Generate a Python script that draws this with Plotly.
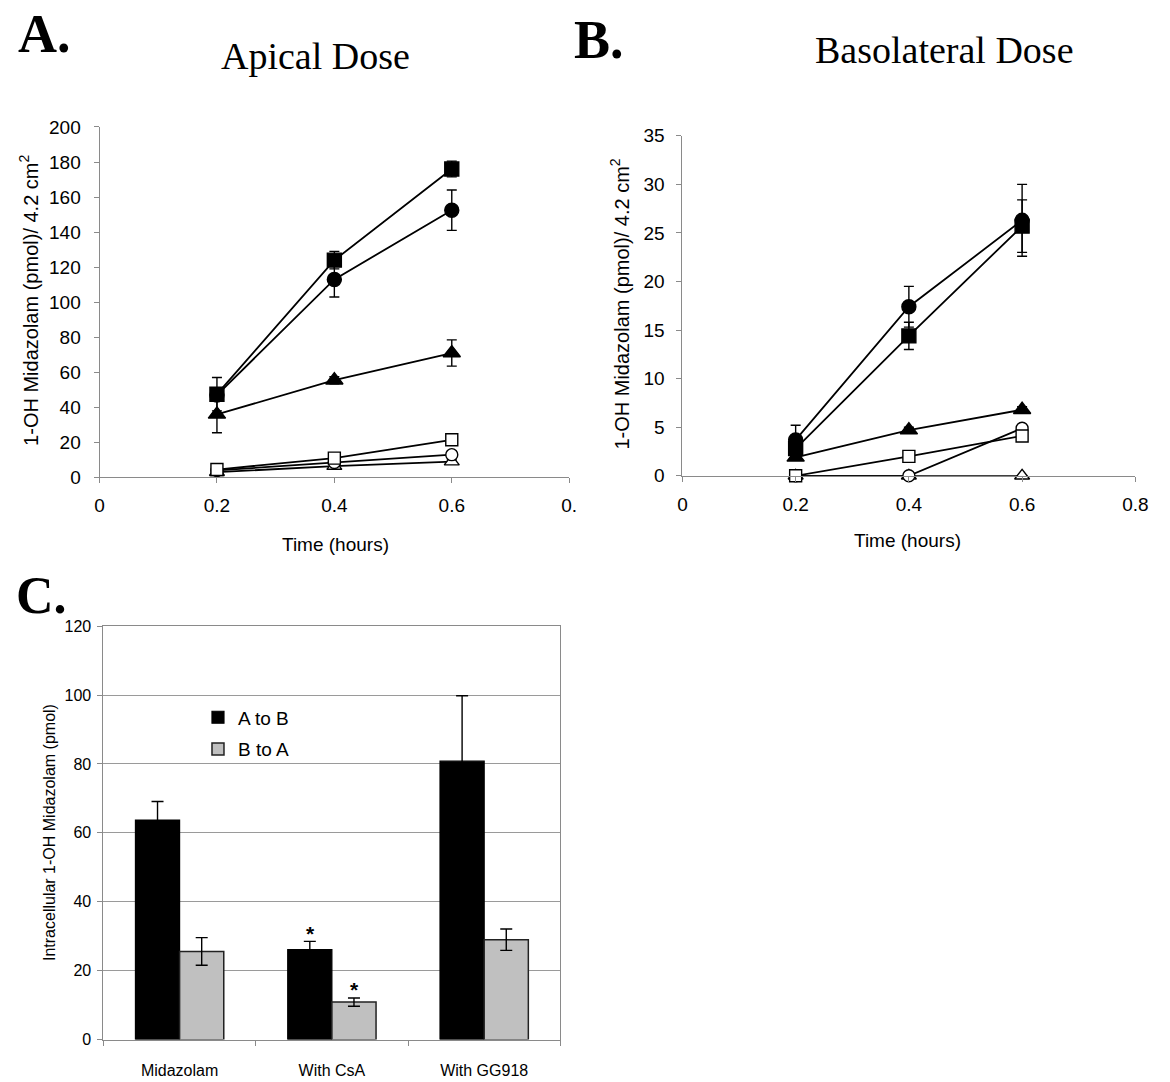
import plotly.graph_objects as go

W, H = 1170, 1082

# ---------------- data ----------------
time_h = [0.2, 0.4, 0.6]

# Panel A: apical dose, 1-OH midazolam (pmol / 4.2 cm2)
ap_filled_square = [47.5, 124, 176]
ap_filled_square_sd = [9.5, 5, 4.5]
ap_filled_circle = [47, 113, 152.5]
ap_filled_circle_sd = [3, 10, 11.5]
ap_filled_triangle = [36, 55.5, 71]
ap_filled_triangle_sd = [10.5, 2, 7.5]
ap_open_square = [4.5, 11, 21.5]
ap_open_square_sd = [1, 1.5, 2.5]
ap_open_circle = [4, 8.5, 13]
ap_open_circle_sd = [1, 1, 2]
ap_open_triangle = [3, 6.5, 9]
ap_open_triangle_sd = [0.5, 1, 1]

# Panel B: basolateral dose, 1-OH midazolam (pmol / 4.2 cm2)
bl_filled_square = [2.8, 14.4, 25.7]
bl_filled_square_sd = [0.5, 1.4, 2.7]
bl_filled_circle = [3.7, 17.4, 26.3]
bl_filled_circle_sd = [1.5, 2.1, 3.7]
bl_filled_triangle = [1.9, 4.7, 6.8]
bl_filled_triangle_sd = [0.3, 0.3, 0.3]
bl_open_square = [0, 2.0, 4.1]
bl_open_square_sd = [0, 0.3, 0.4]
bl_open_circle = [0, 0, 4.9]
bl_open_circle_sd = [0, 0, 0.3]
bl_open_triangle = [0, 0, 0]
bl_open_triangle_sd = [0, 0, 0]

# Panel C: intracellular 1-OH midazolam (pmol)
treatments = ["Midazolam", "With CsA", "With GG918"]
a_to_b = [63.7, 26.1, 80.8]
a_to_b_sd = [5.4, 2.4, 19.0]
b_to_a = [25.6, 10.9, 29.0]
b_to_a_sd = [4.0, 1.2, 3.1]
significant = [False, True, False]

x_ticks = [0, 0.2, 0.4, 0.6, 0.8]
x_ticktext_a = ["0", "0.2", "0.4", "0.6", "0."]
x_ticktext_b = ["0", "0.2", "0.4", "0.6", "0.8"]

# ---------------- helpers ----------------
def px_x(x):
    return x / W


def px_y(y):
    return 1 - y / H


SANS = "Liberation Sans, Arial, sans-serif"
SERIF = "Liberation Serif, Times New Roman, serif"
AXIS_GREY = "#8a8a8a"

fig = go.Figure()


def add_series(y, sd, symbol, filled, xa, ya):
    size = 14 if filled else 12
    if symbol == "triangle-up":
        size += 1
    fig.add_trace(go.Scatter(
        x=time_h, y=y,
        mode="lines+markers",
        line=dict(color="black", width=1.8),
        marker=dict(symbol=symbol, size=size,
                    color="black" if filled else "white",
                    line=dict(color="black", width=1.4)),
        error_y=dict(type="data", array=sd, visible=True, color="black",
                     thickness=1.4, width=5),
        cliponaxis=False, showlegend=False, xaxis=xa, yaxis=ya,
    ))


panel_a = [
    (ap_open_triangle, ap_open_triangle_sd, "triangle-up", False),
    (ap_open_circle, ap_open_circle_sd, "circle", False),
    (ap_open_square, ap_open_square_sd, "square", False),
    (ap_filled_triangle, ap_filled_triangle_sd, "triangle-up", True),
    (ap_filled_circle, ap_filled_circle_sd, "circle", True),
    (ap_filled_square, ap_filled_square_sd, "square", True),
]
for y, sd, sym, filled in panel_a:
    add_series(y, sd, sym, filled, "x", "y")

panel_b = [
    (bl_open_triangle, bl_open_triangle_sd, "triangle-up", False),
    (bl_open_circle, bl_open_circle_sd, "circle", False),
    (bl_open_square, bl_open_square_sd, "square", False),
    (bl_filled_triangle, bl_filled_triangle_sd, "triangle-up", True),
    (bl_filled_square, bl_filled_square_sd, "square", True),
    (bl_filled_circle, bl_filled_circle_sd, "circle", True),
]
for y, sd, sym, filled in panel_b:
    add_series(y, sd, sym, filled, "x2", "y2")

# Panel C bars
fig.add_trace(go.Bar(
    x=treatments, y=a_to_b, name="A to B",
    marker=dict(color="black", line=dict(color="black", width=1.2)),
    error_y=dict(type="data", array=a_to_b_sd, color="black", thickness=1.4, width=6),
    xaxis="x3", yaxis="y3", legendgroup="ab",
))
fig.add_trace(go.Bar(
    x=treatments, y=b_to_a, name="B to A",
    marker=dict(color="#c0c0c0", line=dict(color="#222222", width=1.5)),
    error_y=dict(type="data", array=b_to_a_sd, color="black", thickness=1.4, width=6),
    xaxis="x3", yaxis="y3", legendgroup="ba",
))

# significance markers above the treated bars
for i, flag in enumerate(significant):
    if not flag:
        continue
    for vals, sds, shift in ((a_to_b, a_to_b_sd, -21), (b_to_a, b_to_a_sd, 23)):
        fig.add_annotation(
            x=treatments[i], y=vals[i] + sds[i], xref="x3", yref="y3",
            text="<b>*</b>", showarrow=False, xshift=shift, yshift=8,
            font=dict(family=SANS, size=21, color="black"),
        )

common_line_axis = dict(
    showline=True, linecolor=AXIS_GREY, linewidth=1,
    ticks="outside", ticklen=5, tickcolor=AXIS_GREY,
    showgrid=False, zeroline=False,
    tickfont=dict(family=SANS, size=19, color="black"),
)

fig.update_layout(
    width=W, height=H,
    margin=dict(l=0, r=0, t=0, b=0),
    paper_bgcolor="white", plot_bgcolor="white",
    barmode="group", bargap=0.42, bargroupgap=0,
    showlegend=True,
    legend=dict(
        x=px_x(196), y=px_y(702), xanchor="left", yanchor="top",
        bgcolor="rgba(0,0,0,0)", font=dict(family=SANS, size=19, color="black"),
        tracegroupgap=4, itemwidth=30,
    ),
    xaxis=dict(domain=[px_x(96), px_x(573)], range=[0, 0.8],
               tickvals=x_ticks, ticktext=x_ticktext_a,
               ticklabelstandoff=6, anchor="y", **common_line_axis),
    yaxis=dict(domain=[px_y(476.7), px_y(119.3)], range=[0, 200], dtick=20,
               ticklabelstandoff=9, anchor="x", **common_line_axis),
    xaxis2=dict(domain=[px_x(688), px_x(1148)], range=[0, 0.8],
                tickvals=x_ticks, ticktext=x_ticktext_b,
                ticklabelstandoff=6, anchor="y2", **common_line_axis),
    yaxis2=dict(domain=[px_y(475), px_y(128.3)], range=[0, 35], dtick=5,
                ticklabelstandoff=8, anchor="x2", **common_line_axis),
    xaxis3=dict(domain=[px_x(100), px_x(564)], type="category",
                tickson="boundaries", ticks="outside", ticklen=5, tickcolor=AXIS_GREY,
                showline=True, mirror=True, linecolor=AXIS_GREY, linewidth=1,
                showgrid=False, zeroline=False, anchor="y3",
                ticklabelstandoff=16,
                tickfont=dict(family=SANS, size=16, color="black")),
    yaxis3=dict(domain=[px_y(1050), px_y(628.3)], range=[0, 120], dtick=20,
                ticks="outside", ticklen=5, tickcolor=AXIS_GREY,
                showline=True, mirror=True, linecolor=AXIS_GREY, linewidth=1,
                showgrid=True, gridcolor="#9a9a9a", gridwidth=1, zeroline=False,
                ticklabelstandoff=3,
                anchor="x3", tickfont=dict(family=SANS, size=16, color="black")),
)

# panel letters (top-anchored, y = top of the text box in pixels)
letters = [("<b>A.</b>", 11, -8, 54), ("<b>B.</b>", 576, -2, 54), ("<b>C.</b>", 9, 566, 52)]
for text, x, y, size in letters:
    fig.add_annotation(
        text=text, x=px_x(x), y=px_y(y), xref="paper", yref="paper",
        xanchor="left", yanchor="top", showarrow=False,
        font=dict(family=SERIF, size=size, color="black"),
    )

# panel titles and x-axis titles (centred)
texts = [
    ("Apical Dose", 315, 47, 38, SERIF),
    ("Basolateral Dose", 954, 41, 38, SERIF),
    ("Time (hours)", 336, 545, 19, SANS),
    ("Time (hours)", 917, 541, 19, SANS),
]
for text, x, y, size, family in texts:
    fig.add_annotation(
        text=text, x=px_x(x), y=px_y(y), xref="paper", yref="paper",
        xanchor="center", yanchor="middle", showarrow=False,
        font=dict(family=family, size=size, color="black"),
    )

ytitles = [
    ("1-OH Midazolam (pmol)/ 4.2 cm<sup>2</sup>", 24, 296, 20),
    ("1-OH Midazolam (pmol)/ 4.2 cm<sup>2</sup>", 624, 300, 20),
    ("Intracellular 1-OH Midazolam (pmol)", 45, 839, 16),
]
for text, x, y, size in ytitles:
    fig.add_annotation(
        text=text, x=px_x(x), y=px_y(y), xref="paper", yref="paper",
        textangle=-90, showarrow=False, xanchor="center", yanchor="middle",
        font=dict(family=SANS, size=size, color="black"),
    )

fig.write_html("out.html")
